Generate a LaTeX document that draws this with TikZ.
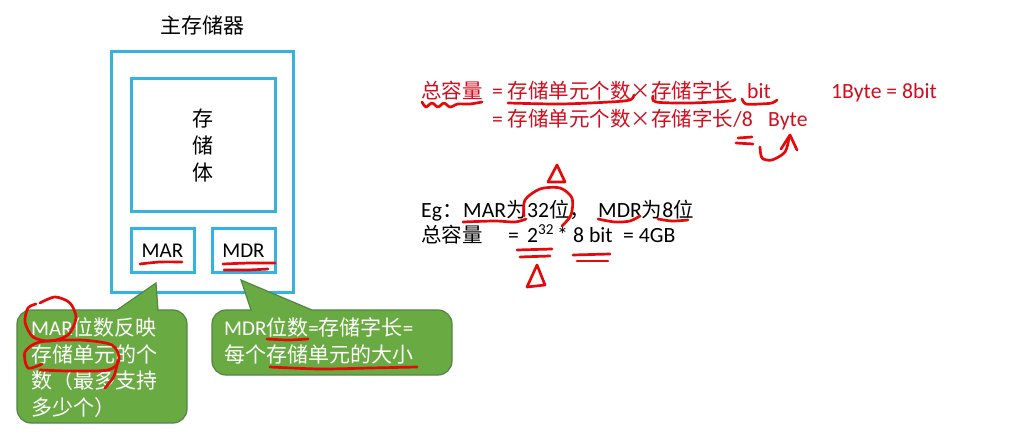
\documentclass[tikz,border=0pt]{standalone}
\usepackage{fontspec}
\setmainfont{Carlito}
\newfontfamily\cjk{Noto Sans CJK SC}
\newcommand{\zh}[1]{{\cjk #1}}
\newcommand{\zr}[1]{{\cjk\fontsize{20.5}{20.5}\selectfont #1}}
\definecolor{boxcyan}{RGB}{52,178,224}
\definecolor{calloutgreen}{RGB}{106,170,66}
\definecolor{calloutedge}{RGB}{84,132,70}
\definecolor{textred}{RGB}{208,14,30}
\definecolor{inkred}{RGB}{228,10,10}
\tikzset{
  regbox/.style={draw=boxcyan,line width=3pt,inner sep=0pt},
  callout/.style={fill=calloutgreen,draw=calloutedge,line width=1.2pt},
  ink/.style={draw=inkred,line width=2.7pt,line cap=round,line join=round},
  lefttext/.style={font=\fontsize{21}{27}\selectfont,inner sep=0pt},
  calltext/.style={font=\fontsize{21}{26.5}\selectfont,text=white,align=left,anchor=north west,inner sep=0pt},
  redtext/.style={text=textred,font=\fontsize{21.7}{21.7}\selectfont,inner sep=0pt,anchor=base west},
  blacktext/.style={text=black,font=\fontsize{21.7}{21.7}\selectfont,inner sep=0pt,anchor=base west}
}
\begin{document}
\begin{tikzpicture}[x=1pt,y=-1pt]
\fill[white] (0,0) rectangle (1024,446);
\useasboundingbox (0,0) rectangle (1024,446);

% main memory
\node[lefttext] (title) at (202,26) {\zh{主存储器}};
\node[regbox,minimum width=182pt,minimum height=240pt] (mem) at (202,172) {};
\node[regbox,lefttext,align=center,minimum width=144pt,minimum height=133pt] (body) at (203,145.5) {\zh{存}\\\zh{储}\\\zh{体}};
\node[regbox,lefttext,minimum width=63pt,minimum height=43pt] (mar) at (162.5,250.5) {MAR};
\node[regbox,lefttext,minimum width=63pt,minimum height=43pt] (mdr) at (243.5,250.5) {MDR};

% callouts
\draw[callout] (31,310) -- (117,310) -- (156,283) -- (158,310) -- (173,310)
  arc[start angle=-90,end angle=0,radius=14] -- (187,409)
  arc[start angle=0,end angle=90,radius=14] -- (31,423)
  arc[start angle=90,end angle=180,radius=14] -- (17,324)
  arc[start angle=180,end angle=270,radius=14] -- cycle;
\draw[callout] (226,310) -- (251,310) -- (241,280) -- (312,310) -- (438,310)
  arc[start angle=-90,end angle=0,radius=14] -- (452,361)
  arc[start angle=0,end angle=90,radius=14] -- (226,375)
  arc[start angle=90,end angle=180,radius=14] -- (212,324)
  arc[start angle=180,end angle=270,radius=14] -- cycle;
\node[calltext] (t1) at (31,318) {MAR\zh{位数反映}\\\zh{存储单元的个}\\\zh{数（最多支持}\\\zh{多少个）}};
\node[calltext] (t2) at (224,318) {MDR\zh{位数}=\zh{存储字长}=\\\zh{每个存储单元的大小}};

% formulas
\node[redtext] (cap1) at (421,99) {\makebox[71pt][l]{\zr{总容量}}\makebox[255pt][l]{= \zr{存储单元个数×存储字长}}bit};
\node[redtext] (cap2) at (492,127) {\makebox[276pt][l]{= \zr{存储单元个数×存储字长}/8}Byte};
\node[redtext] (conv) at (831,99) {1Byte = 8bit};
\node[blacktext] (eg) at (421,218) {\makebox[42pt][l]{Eg\zr{：}}\makebox[64pt][l]{MAR\zr{为}}\makebox[71pt][l]{32\zr{位，}}MDR\zr{为}8\zr{位}};
\node[blacktext] (total) at (421,242) {\makebox[87pt][l]{\zr{总容量}}\makebox[19pt][l]{=}\makebox[30pt][l]{2\textsuperscript{32}}\makebox[16pt][l]{*}\makebox[50pt][l]{8 bit}= 4GB};

% handwritten marks
\draw[ink] plot[smooth] coordinates {(140,264)(160,262)(182,262)};
\draw[ink] plot[smooth] coordinates {(223,264)(250,263)(275,263)};
\draw[ink] plot[smooth] coordinates {(224,270)(248,270)(268,269)};
\draw[ink] plot[smooth] coordinates {(40,303)(55,297)(70,303)(76,318)(68,335)(50,341)(33,337)(25,322)(28,308)(36,304)};
\draw[ink] plot[smooth] coordinates {(42,364)(28,368)(25,352)(40,342)(80,340)(112,345)(119,360)(108,370)(70,371)(40,370)};
\draw[ink] plot[smooth] coordinates {(118,360)(114,376)(105,388)};
\draw[ink] plot[smooth] coordinates {(267,339)(288,340)(308,339)};
\draw[ink] plot[smooth] coordinates {(270,367)(320,369)(370,368)(417,367)};

\draw[ink] plot[smooth] coordinates {(422,102)(426,107)(432,103)(438,107)(444,103)(450,107)(458,104)(470,104)(482,102)};
\draw[ink] plot[smooth] coordinates {(508,103)(560,104)(610,102)(630,100)(634,95)};
\draw[ink] plot[smooth] coordinates {(653,96)(656,102)(690,103)(730,101)(735,99)};
\draw[ink] plot[smooth] coordinates {(742,99)(746,104)(760,104)(772,103)(777,100)};
\draw[ink] (738,138) -- (752,137);
\draw[ink] (736,143) -- (753,144);
\draw[ink] plot[smooth] coordinates {(760,147)(762,158)(772,160)(785,152)(789,138)};
\draw[ink] (781,149) -- (790,135) -- (797,150);

\draw[ink] (557,165) -- (548,182) -- (565,182) -- cycle;
\draw[ink] plot[smooth] coordinates {(524,216)(525,200)(540,189)(560,188)(572,198)(571,215)(562,226)};
\draw[ink] plot[smooth] coordinates {(463,222)(495,221)(515,222)(526,219)};
\draw[ink] plot[smooth] coordinates {(598,219)(615,222)(630,221)(640,216)};
\draw[ink] plot[smooth] coordinates {(658,219)(672,221)(688,220)};
\draw[ink] (517,250) -- (552,249);
\draw[ink] (520,257) -- (550,256);
\draw[ink] (537,265) -- (527,287) -- (545,285) -- cycle;
\draw[ink] (573,255) -- (610,254);
\draw[ink] (577,261) -- (608,261);
\end{tikzpicture}
\end{document}
